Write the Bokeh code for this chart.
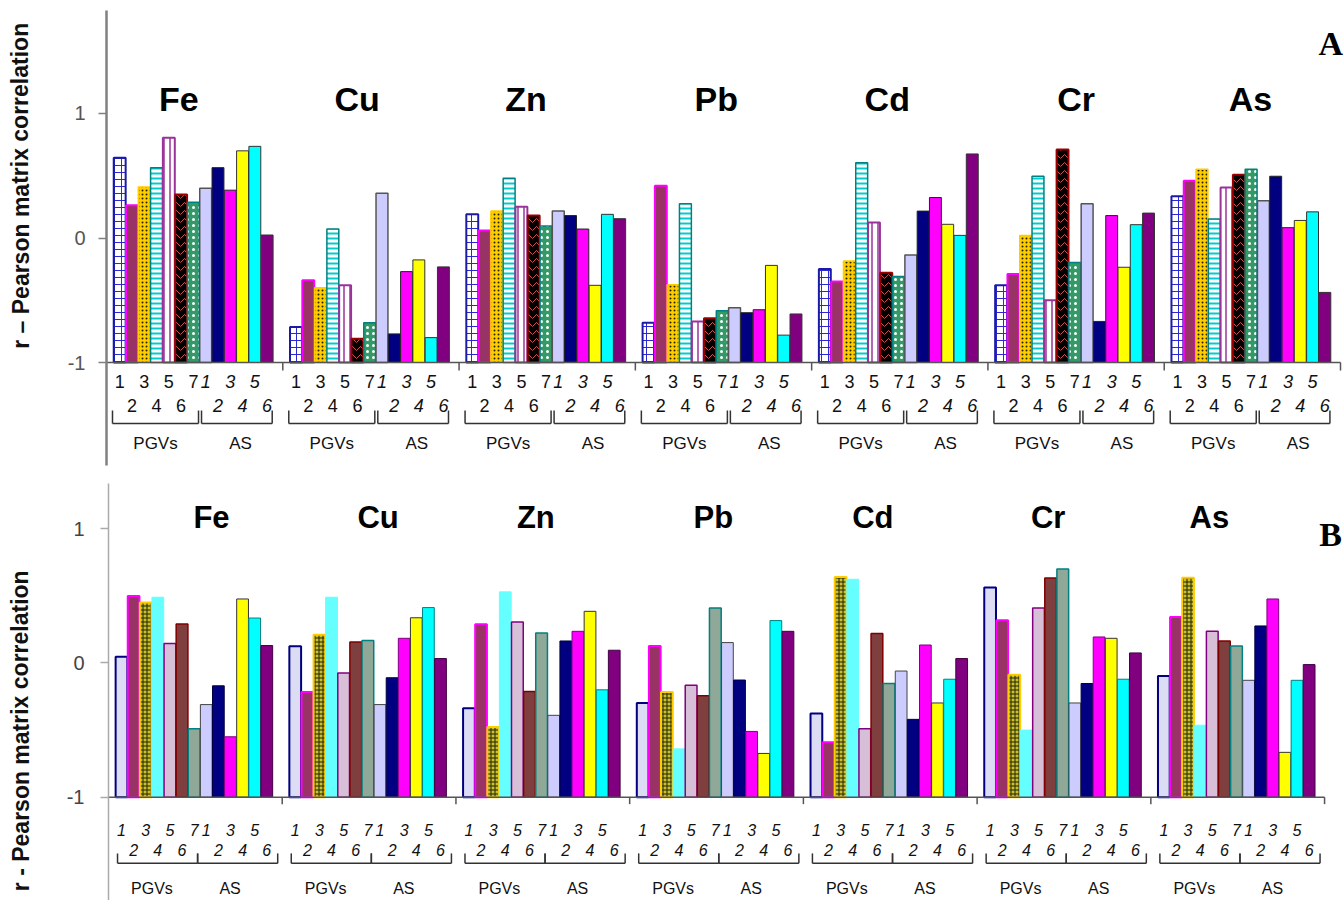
from bokeh.plotting import figure
from bokeh.models import FixedTicker
from bokeh.layouts import column, row
from bokeh.embed import file_html
from bokeh.resources import INLINE
from bokeh.core.properties import value

# ---------------- data ----------------
elements = ["Fe", "Cu", "Zn", "Pb", "Cd", "Cr", "As"]
pgv_numbers = ["1", "2", "3", "4", "5", "6", "7"]
as_numbers = ["1", "2", "3", "4", "5", "6"]
group_names = ["PGVs", "AS"]
y_ticks = [-1, 0, 1]

# panel A: PGV1..PGV7, AS1..AS6 per element
a_fe = [0.645, 0.264, 0.41, 0.565, 0.805, 0.35, 0.288, 0.40, 0.565, 0.384, 0.70, 0.736, 0.024]
a_cu = [-0.715, -0.34, -0.40, 0.072, -0.38, -0.81, -0.68, 0.36, -0.77, -0.27, -0.176, -0.80, -0.232]
a_zn = [0.19, 0.06, 0.216, 0.48, 0.25, 0.18, 0.096, 0.216, 0.18, 0.072, -0.38, 0.19, 0.155]
a_pb = [-0.68, 0.42, -0.376, 0.275, -0.67, -0.645, -0.584, -0.56, -0.60, -0.576, -0.22, -0.78, -0.61]
a_cd = [-0.248, -0.35, -0.184, 0.605, 0.125, -0.28, -0.31, -0.136, 0.216, 0.325, 0.11, 0.021, 0.675]
a_cr = [-0.38, -0.29, 0.02, 0.496, -0.50, 0.71, -0.197, 0.275, -0.67, 0.18, -0.235, 0.107, 0.20]
a_as = [0.336, 0.46, 0.552, 0.152, 0.405, 0.507, 0.552, 0.30, 0.496, 0.083, 0.141, 0.21, -0.437]

# panel B
b_fe = [0.047, 0.50, 0.45, 0.49, 0.145, 0.29, -0.49, -0.31, -0.17, -0.55, 0.477, 0.335, 0.13]
b_cu = [0.124, -0.216, 0.21, 0.49, -0.075, 0.157, 0.167, -0.31, -0.11, 0.184, 0.337, 0.413, 0.033]
b_zn = [-0.337, 0.288, -0.477, 0.53, 0.305, -0.213, 0.224, -0.39, 0.164, 0.236, 0.385, -0.20, 0.095]
b_pb = [-0.298, 0.127, -0.216, -0.64, -0.166, -0.245, 0.41, 0.152, -0.127, -0.51, -0.674, 0.316, 0.236]
b_cd = [-0.377, -0.59, 0.64, 0.624, -0.49, 0.22, -0.153, -0.06, -0.42, 0.134, -0.298, -0.121, 0.033]
b_cr = [0.562, 0.318, -0.087, -0.50, 0.41, 0.633, 0.70, -0.298, -0.153, 0.194, 0.184, -0.121, 0.075]
b_as = [-0.097, 0.343, 0.636, -0.464, 0.236, 0.164, 0.127, -0.129, 0.276, 0.477, -0.666, -0.129, -0.012]

panel_a = [a_fe, a_cu, a_zn, a_pb, a_cd, a_cr, a_as]
panel_b = [b_fe, b_cu, b_zn, b_pb, b_cd, b_cr, b_as]

# ---------------- styles ----------------
FONT = "Liberation Sans"
N_SER = 13
BAR_START = 0.04
BAR_W = (0.946 - 0.04) / N_SER
LABEL_W = 40

styles_a = [
    dict(fill_color="white", line_color="#1a1aa6", line_width=2, hatch_pattern="+", hatch_color="#2a2ad0", hatch_scale=7, hatch_weight=1),
    dict(fill_color="#993366", line_color="#ff00ff", line_width=2),
    dict(fill_color="#ffcc00", line_color="#ffcc00", line_width=1.5, hatch_pattern=".", hatch_color="#222200", hatch_scale=4, hatch_weight=1),
    dict(fill_color="white", line_color="#008080", line_width=1.5, hatch_pattern="-", hatch_color="#00cccc", hatch_scale=5, hatch_weight=2),
    dict(fill_color="white", line_color="#993399", line_width=2, hatch_pattern="|", hatch_color="#993399", hatch_scale=6, hatch_weight=1.5),
    dict(fill_color="black", line_color="#990000", line_width=2, hatch_pattern="v", hatch_color="#d05050", hatch_scale=8, hatch_weight=1),
    dict(fill_color="#339966", line_color="#008080", line_width=1.5, hatch_pattern=".", hatch_color="white", hatch_scale=6, hatch_weight=2),
    dict(fill_color="#ccccff", line_color="#555555", line_width=1.5),
    dict(fill_color="#000080", line_color="#222222", line_width=1),
    dict(fill_color="#ff00ff", line_color="#222222", line_width=1),
    dict(fill_color="#ffff00", line_color="#333333", line_width=1),
    dict(fill_color="#00ffff", line_color="#333333", line_width=1),
    dict(fill_color="#800080", line_color="#333333", line_width=1),
]
styles_b = [
    dict(fill_color="#dcdcf4", line_color="#000080", line_width=2),
    dict(fill_color="#993366", line_color="#ff00ff", line_width=2),
    dict(fill_color="#c8c030", line_color="#ffcc00", line_width=2, hatch_pattern="+", hatch_color="#222200", hatch_scale=4, hatch_weight=1),
    dict(fill_color="#66ffff", line_color="#66ffff", line_width=1),
    dict(fill_color="#d8bfd8", line_color="#800080", line_width=1.5),
    dict(fill_color="#7f3f3f", line_color="#800000", line_width=1.5),
    dict(fill_color="#8fa898", line_color="#008080", line_width=1.5),
    dict(fill_color="#ccccff", line_color="#444444", line_width=1),
    dict(fill_color="#000080", line_color="#000040", line_width=1),
    dict(fill_color="#ff00ff", line_color="#800080", line_width=1),
    dict(fill_color="#ffff00", line_color="#333333", line_width=1),
    dict(fill_color="#00ffff", line_color="#008080", line_width=1),
    dict(fill_color="#800080", line_color="#400040", line_width=1),
]

cfg_a = dict(
    height=475, border=(10, 10, 106 - LABEL_W, 0), xr=(0, 7.017), yr=(-1.827, 1.827), styles=styles_a,
    title_y=1.12, title_size="34px", title_shift=[-0.09, -0.078, -0.12, -0.041, -0.071, 0.0, -0.011],
    row1=-1.153, row2=-1.345, br_top=-1.386, br_bot=-1.49, grp_y=-1.65, num_size="18px", grp_size="17px",
    pgv_italic=False, pgv_br=(0.034, 0.522), as_br=(0.539, 0.94), grp_x=(0.278, 0.76),
    tick_len=0.064, tick_label_size="20px", tick_color="#555555", axis_color="#808080", axis_w=2.5,
    ylabel="r \u2013 Pearson matrix correlation", ylabel_y=475 - 183,
    letter="A", letter_xy=(7.014, 1.56), standoff=13,
)
cfg_b = dict(
    height=425, border=(8, 0, 108 - LABEL_W, 0), xr=(0, 7.109), yr=(-1.770, 1.3376), styles=styles_b,
    title_y=1.085, title_size="31px", title_shift=[0.093, 0.052, -0.04, -0.018, -0.1, -0.091, -0.163],
    row1=-1.247, row2=-1.396, br_top=-1.419, br_bot=-1.493, grp_y=-1.68, num_size="16px", grp_size="16px",
    pgv_italic=True, pgv_br=(0.052, 0.513), as_br=(0.513, 0.974), grp_x=(0.25, 0.70),
    tick_len=0.052, tick_label_size="20px", tick_color="#444444", axis_color="#aaaaaa", axis_w=1.5,
    ylabel="r - Pearson matrix correlation", ylabel_y=425 - 252,
    letter="B", letter_xy=(7.1, 0.955), standoff=16,
)


def bar_center(g, s):
    return g + BAR_START + (s + 0.5) * BAR_W


def make_label_fig(cfg):
    h = cfg["height"]
    lf = figure(width=LABEL_W, height=h, x_range=(0, LABEL_W), y_range=(0, h),
                output_backend="svg", toolbar_location=None, x_axis_location=None,
                y_axis_location=None, min_border=0, min_border_left=0, min_border_right=0,
                min_border_top=0, min_border_bottom=0)
    lf.outline_line_color = None
    lf.xgrid.visible = False
    lf.ygrid.visible = False
    lf.text(x=[20], y=[cfg["ylabel_y"]], text=[cfg["ylabel"]], angle=1.5708,
            text_font=value(FONT), text_font_style="bold", text_font_size="23px",
            text_align="center", text_baseline="middle", text_color="#111111")
    return lf


def make_panel(vals, cfg):
    top, bottom, left, right = cfg["border"]
    p = figure(width=1343 - LABEL_W, height=cfg["height"], x_range=cfg["xr"], y_range=cfg["yr"],
               output_backend="svg", toolbar_location=None, x_axis_location=None,
               min_border_top=top, min_border_bottom=bottom, min_border_left=left,
               min_border_right=right, background_fill_color="white", border_fill_color="white")
    p.outline_line_color = None
    p.xgrid.visible = False
    p.ygrid.visible = False
    ax = p.yaxis[0]
    ax.ticker = FixedTicker(ticks=y_ticks)
    ax.major_label_overrides = {t: str(t) for t in y_ticks}
    ax.major_label_text_font = FONT
    ax.major_label_text_font_size = cfg["tick_label_size"]
    ax.major_label_text_color = cfg["tick_color"]
    ax.major_label_standoff = cfg["standoff"]
    ax.major_tick_in = 0
    ax.major_tick_out = 8
    ax.minor_tick_line_color = None
    ax.axis_line_color = cfg["axis_color"]
    ax.axis_line_width = cfg["axis_w"]
    ax.major_tick_line_color = cfg["axis_color"]
    ax.major_tick_line_width = 1.5

    # bars
    for s in range(N_SER):
        xs = [bar_center(g, s) for g in range(len(elements))]
        tops = [vals[g][s] for g in range(len(elements))]
        p.vbar(x=xs, top=tops, bottom=-1, width=BAR_W * 0.97, **cfg["styles"][s])

    # baseline axis at -1 with group ticks
    p.segment(x0=[0], y0=[-1], x1=[7], y1=[-1], line_color="#555555", line_width=1.5)
    p.segment(x0=list(range(1, 8)), y0=[-1] * 7, x1=list(range(1, 8)),
              y1=[-1 - cfg["tick_len"]] * 7, line_color="#555555", line_width=1.5)

    # element titles
    p.text(x=[g + 0.5 + cfg["title_shift"][g] for g in range(7)], y=[cfg["title_y"]] * 7,
           text=elements, text_font=value(FONT), text_font_style="bold",
           text_font_size=cfg["title_size"], text_align="center", text_baseline="middle",
           text_color="black")

    # sample numbers
    rows = {"r1p": ([], [], []), "r2p": ([], [], []), "r1a": ([], [], []), "r2a": ([], [], [])}
    for g in range(7):
        for i, lab in enumerate(pgv_numbers):
            key = "r1p" if i % 2 == 0 else "r2p"
            rows[key][0].append(bar_center(g, i))
            rows[key][1].append(cfg["row1"] if i % 2 == 0 else cfg["row2"])
            rows[key][2].append(lab)
        for i, lab in enumerate(as_numbers):
            key = "r1a" if i % 2 == 0 else "r2a"
            rows[key][0].append(bar_center(g, 7 + i))
            rows[key][1].append(cfg["row1"] if i % 2 == 0 else cfg["row2"])
            rows[key][2].append(lab)
    for key, (xs, ys, ts) in rows.items():
        italic = key.endswith("a") or cfg["pgv_italic"]
        p.text(x=xs, y=ys, text=ts, text_font=value(FONT),
               text_font_style="italic" if italic else "normal",
               text_font_size=cfg["num_size"], text_align="center", text_baseline="middle",
               text_color="#111111")

    # brackets
    hx0, hx1, vx = [], [], []
    for g in range(7):
        for a, b in (cfg["pgv_br"], cfg["as_br"]):
            hx0.append(g + a)
            hx1.append(g + b)
            vx.extend([g + a, g + b])
    p.segment(x0=hx0, y0=[cfg["br_bot"]] * len(hx0), x1=hx1, y1=[cfg["br_bot"]] * len(hx0),
              line_color="#333333", line_width=1.5)
    p.segment(x0=vx, y0=[cfg["br_top"]] * len(vx), x1=vx, y1=[cfg["br_bot"]] * len(vx),
              line_color="#333333", line_width=1.5)

    # group names
    gx, gy, gt = [], [], []
    for g in range(7):
        for k, name in enumerate(group_names):
            gx.append(g + cfg["grp_x"][k])
            gy.append(cfg["grp_y"])
            gt.append(name)
    p.text(x=gx, y=gy, text=gt, text_font=value(FONT), text_font_size=cfg["grp_size"],
           text_align="center", text_baseline="middle", text_color="#111111")

    # panel letter
    p.text(x=[cfg["letter_xy"][0]], y=[cfg["letter_xy"][1]], text=[cfg["letter"]],
           text_font=value("Liberation Serif"), text_font_style="bold",
           text_font_size="34px", text_align="right", text_baseline="middle",
           text_color="black")
    return p


pA = make_panel(panel_a, cfg_a)
pB = make_panel(panel_b, cfg_b)
layout = column(row(make_label_fig(cfg_a), pA, spacing=0),
                row(make_label_fig(cfg_b), pB, spacing=0), spacing=0)

open("out.html", "w").write(file_html(layout, INLINE))
